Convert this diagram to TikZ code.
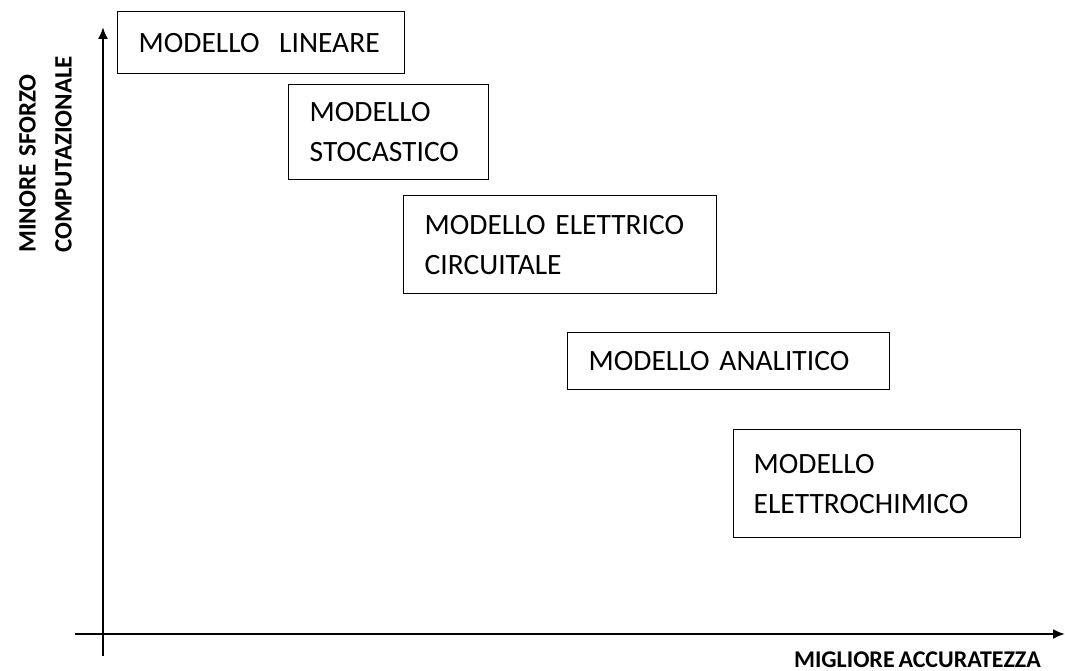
\documentclass[tikz,border=0pt]{standalone}
\usepackage{fontspec}
\setmainfont{Carlito}[WordSpace=0.7]
\usetikzlibrary{arrows.meta}
\begin{document}
\begin{tikzpicture}[x=1pt,y=-1pt,
    modbox/.style={draw, line width=1.3pt, anchor=north west, align=left,
        inner xsep=21pt, inner ysep=0pt, font=\fontsize{29.5}{40}\selectfont},
    axis/.style={line width=2pt, -{Latex[length=12pt,width=10pt]}},
    axislabel/.style={font=\fontsize{25}{36}\bfseries\selectfont, align=left, inner sep=0pt}]
\useasboundingbox (0,0) rectangle (1065,671);

\node[modbox, minimum width=287pt, minimum height=62pt, text width=245pt] at (117,11) (lineare) {MODELLO\ \ LINEARE};
\node[modbox, minimum width=200pt, minimum height=95pt, text width=158pt] at (288,84) (stocastico) {MODELLO\\STOCASTICO};
\node[modbox, minimum width=313pt, minimum height=98pt, text width=271pt] at (403,195) (circuitale) {MODELLO ELETTRICO\\CIRCUITALE};
\node[modbox, minimum width=322pt, minimum height=57pt, text width=280pt] at (567,332) (analitico) {MODELLO ANALITICO};
\node[modbox, minimum width=287pt, minimum height=108pt, text width=247pt, inner xsep=20pt] at (733,429) (elettrochimico) {MODELLO\\ELETTROCHIMICO};

\coordinate (ybot) at (103,656);
\coordinate (ytop) at (103,27);
\coordinate (xleft) at (75,634);
\coordinate (xright) at (1065,634);
\draw[axis] (ybot) -- (ytop);
\draw[axis] (xleft) -- (xright);

\node[axislabel, rotate=90, anchor=south west] at (72,253) (sforzo) {MINORE\ \ SFORZO\\COMPUTAZIONALE};
\node[axislabel, font=\fontsize{24}{36}\bfseries\selectfont, anchor=base east] at (1041,667) (accuratezza) {MIGLIORE ACCURATEZZA};
\end{tikzpicture}
\end{document}
